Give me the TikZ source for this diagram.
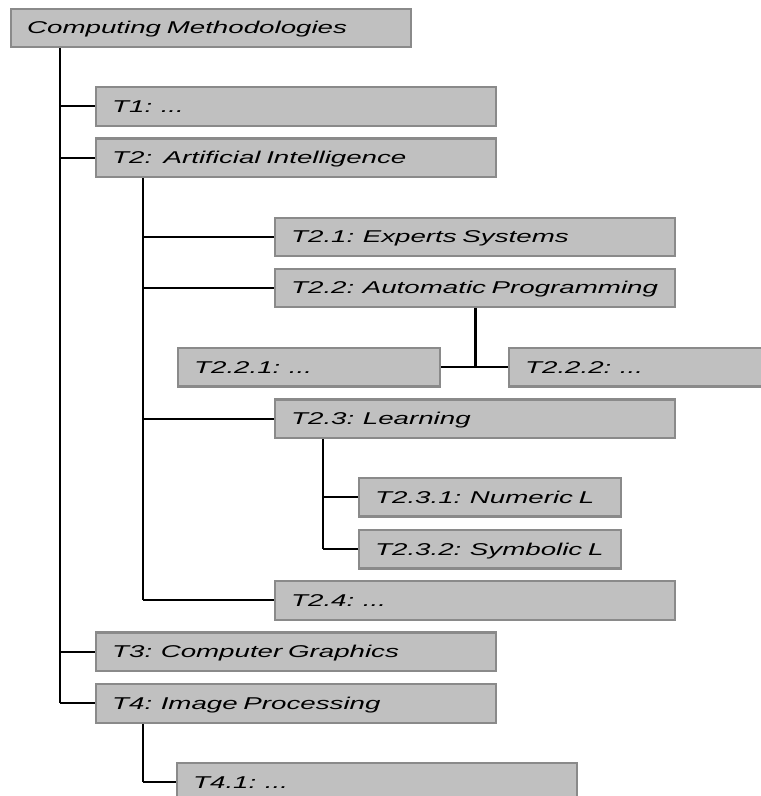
\documentclass[tikz,border=0pt]{standalone}
\usepackage{fontspec}
\newfontfamily\boxfont{Liberation Sans}[FakeStretch=1.62]
\definecolor{boxfill}{HTML}{C0C0C0}
\definecolor{boxline}{HTML}{8A8A8A}
\tikzset{
  tbox/.style={rectangle, draw=boxline, fill=boxfill, line width=2.4pt,
    anchor=north west, minimum height=38.5pt, inner xsep=16pt, inner ysep=0pt,
    text width=#1-32pt, align=left, text height=12pt, text depth=0pt,
    font=\boxfont\itshape\fontsize{17.1}{20}\selectfont},
  tbox/.default=400pt,
  vline/.style={draw=black, line width=2.8pt},
  hline/.style={draw=black, line width=2pt}
}
\begin{document}
\begin{tikzpicture}[x=1pt,y=-1pt]
\clip (0,0) rectangle (761,796);
\fill[white] (0,0) rectangle (761,796);
% boxes
\node[tbox] (root) at (10,7.5) {\mbox{Computing Methodologies}};
\node[tbox] (t1) at (95,86) {\mbox{T1: ...}};
\node[tbox] (t2) at (95,137.3) {\mbox{T2:\ \ Artificial Intelligence}};
\node[tbox] (t21) at (274,216.5) {\mbox{T2.1: Experts Systems}};
\node[tbox] (t22) at (274,267.5) {\mbox{T2.2: Automatic Programming}};
\node[tbox=262pt] (t221) at (177,346.7) {\mbox{T2.2.1: ...}};
\node[tbox=262pt] (t222) at (508,346.7) {\mbox{T2.2.2: ...}};
\node[tbox] (t23) at (274,398.3) {\mbox{T2.3: Learning}};
\node[tbox=262pt] (t231) at (358,476.8) {\mbox{T2.3.1: Numeric L}};
\node[tbox=262pt] (t232) at (358,528.8) {\mbox{T2.3.2: Symbolic L}};
\node[tbox] (t24) at (274,580) {\mbox{T2.4: ...}};
\node[tbox] (t3) at (95,631.3) {\mbox{T3: Computer Graphics}};
\node[tbox] (t4) at (95,683) {\mbox{T4: Image Processing}};
\node[tbox] (t41) at (176,761.8) {\mbox{T4.1: ...}};
% connectors: root
\coordinate (ra) at ([xshift=50pt]root.south west);
\draw[vline] (ra) -- (ra |- t4.west);
\foreach \n in {t1,t2,t3,t4} \draw[hline] (ra |- \n.west) -- (\n.west);
% T2
\coordinate (ta) at ([xshift=48pt]t2.south west);
\draw[vline] (ta) -- (ta |- t24.west);
\foreach \n in {t21,t22,t23,t24} \draw[hline] (ta |- \n.west) -- (\n.west);
% T2.2
\draw[vline] (t22.south) -- (t22.south |- t221.east);
\draw[hline] (t221.east) -- (t222.west);
% T2.3
\coordinate (tb) at ([xshift=49pt]t23.south west);
\draw[vline] (tb) -- (tb |- t232.west);
\foreach \n in {t231,t232} \draw[hline] (tb |- \n.west) -- (\n.west);
% T4
\coordinate (tc) at ([xshift=48pt]t4.south west);
\draw[vline] (tc) -- (tc |- t41.west);
\draw[hline] (tc |- t41.west) -- (t41.west);
\end{tikzpicture}
\end{document}
